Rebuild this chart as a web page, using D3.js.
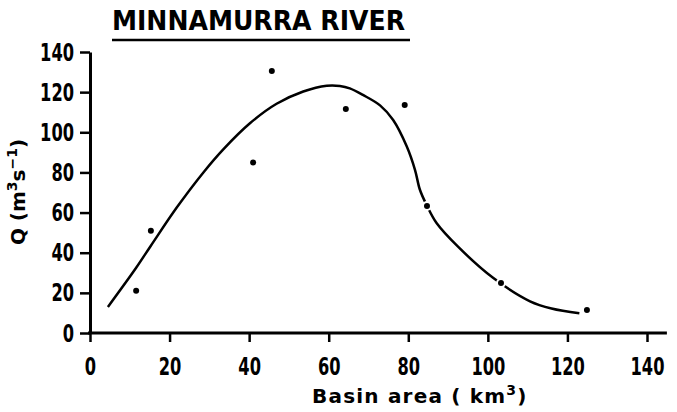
<!DOCTYPE html>
<html>
<head>
<meta charset="utf-8">
<script src="https://cdn.jsdelivr.net/npm/d3@7"></script>
<style>
  body { margin: 0; background: #fff; }
  text { fill: #000; }
</style>
</head>
<body>
<div id="vis-container"></div>
<script>
// observed points
var pointArea = [11.6, 15.3, 41, 45.7, 64.3, 79.1, 84.7, 103.3, 124.9];
var pointQ    = [21, 51, 85, 130.5, 111.6, 113.6, 63.3, 24.9, 11.5];

// hand-fitted curve
var curveArea = [4.5, 11.6, 15.3, 21.8, 28.5, 33.5, 40.2, 46.9, 53.6, 59.5, 62.8, 65.3, 68.6, 72.9, 76.2, 79.6, 81.7, 82.9, 84.6, 87.1, 92.5, 101.3, 110.6, 116, 123];
var curveQ    = [13, 32.5, 43.5, 62.5, 80, 91.5, 104.5, 114.2, 120.3, 123.2, 123.1, 121.9, 118.6, 113.4, 106.1, 93, 81.2, 71.5, 63.8, 54.8, 43, 27.5, 15.8, 12.2, 9.8];

var xTicks = [0, 20, 40, 60, 80, 100, 120, 140];
var yTicks = [0, 20, 40, 60, 80, 100, 120, 140];

var width = 677, height = 412;
var tickFont = "'DejaVu Sans Condensed', 'Liberation Sans Narrow', sans-serif";

var xScale = d3.scaleLinear().domain([0, 140]).range([90, 647]);
var yScale = d3.scaleLinear().domain([0, 140]).range([333, 52]);

var svg = d3.select("#vis-container")
  .append("svg")
    .attr("width", width)
    .attr("height", height);

// title + underline
svg.append("text")
    .attr("x", 112)
    .attr("y", 30)
    .attr("textLength", 293)
    .attr("lengthAdjust", "spacingAndGlyphs")
    .style("font-family", "'DejaVu Sans', sans-serif")
    .style("font-weight", "bold")
    .style("font-size", "26px")
    .text("MINNAMURRA  RIVER");
svg.append("line")
    .attr("x1", 112).attr("x2", 410)
    .attr("y1", 40).attr("y2", 40)
    .attr("stroke", "#000")
    .attr("stroke-width", 2.5);

// y axis
var yAxis = d3.axisLeft(yScale)
    .tickValues(yTicks)
    .tickSize(10)
    .tickSizeOuter(0)
    .tickPadding(6);
var gy = svg.append("g")
    .attr("class", "y axis")
    .attr("transform", "translate(" + xScale(0) + ",0)")
    .call(yAxis);

// x axis
var xAxis = d3.axisBottom(xScale)
    .tickValues(xTicks)
    .tickSize(9)
    .tickSizeOuter(0)
    .tickPadding(15);
var gx = svg.append("g")
    .attr("class", "x axis")
    .attr("transform", "translate(0," + yScale(0) + ")")
    .call(xAxis);

// the drawn x axis runs a bit past 140
gx.select(".domain").remove();
gx.append("line")
    .attr("x1", xScale(0) - 2).attr("x2", xScale(145))
    .attr("stroke", "#000")
    .attr("stroke-width", 3);

svg.selectAll(".axis .domain").attr("stroke", "#000").attr("stroke-width", 3);
svg.selectAll(".axis .tick line").attr("stroke", "#000").attr("stroke-width", 2.5);
svg.selectAll(".axis .tick text")
    .style("font-family", tickFont)
    .style("font-weight", "bold")
    .style("font-size", "25px")
    .attr("fill", "#000")
    .attr("textLength", function(d) { return String(d).length * 11.3; })
    .attr("lengthAdjust", "spacingAndGlyphs");
gx.selectAll(".tick text").attr("dy", "0.71em");

// axis titles
svg.append("text")
    .attr("x", 312)
    .attr("y", 403)
    .style("font-family", "'DejaVu Sans', sans-serif")
    .style("font-weight", "bold")
    .style("font-size", "20px")
    .style("letter-spacing", "1.2px")
    .html("Basin area ( km<tspan dy='-8' font-size='14px'>3</tspan><tspan dy='8'>)</tspan>");

svg.append("text")
    .attr("transform", "translate(25,192) rotate(-90)")
    .attr("text-anchor", "middle")
    .style("font-family", "'DejaVu Sans', sans-serif")
    .style("font-weight", "bold")
    .style("font-size", "20px")
    .html("Q (m<tspan dy='-8' font-size='14px'>3</tspan><tspan dy='8'>s</tspan><tspan dy='-8' font-size='14px'>\u22121</tspan><tspan dy='8'>)</tspan>");

// curve
var curveData = curveArea.map(function(a, i) { return [a, curveQ[i]]; });
var line = d3.line()
    .x(function(d) { return xScale(d[0]); })
    .y(function(d) { return yScale(d[1]); })
    .curve(d3.curveCatmullRom.alpha(0.5));
svg.append("path")
    .datum(curveData)
    .attr("d", line)
    .attr("fill", "none")
    .attr("stroke", "#000")
    .attr("stroke-width", 2.5);

// points: a white halo breaks the curve where it passes through one
svg.selectAll(".halo")
  .data(pointArea)
  .enter().append("circle")
    .attr("class", "halo")
    .attr("cx", function(d) { return xScale(d); })
    .attr("cy", function(d, i) { return yScale(pointQ[i]); })
    .attr("r", 5)
    .attr("fill", "#fff");
svg.selectAll(".pt")
  .data(pointArea)
  .enter().append("circle")
    .attr("class", "pt")
    .attr("cx", function(d) { return xScale(d); })
    .attr("cy", function(d, i) { return yScale(pointQ[i]); })
    .attr("r", 3)
    .attr("fill", "#000");
</script>
</body>
</html>
